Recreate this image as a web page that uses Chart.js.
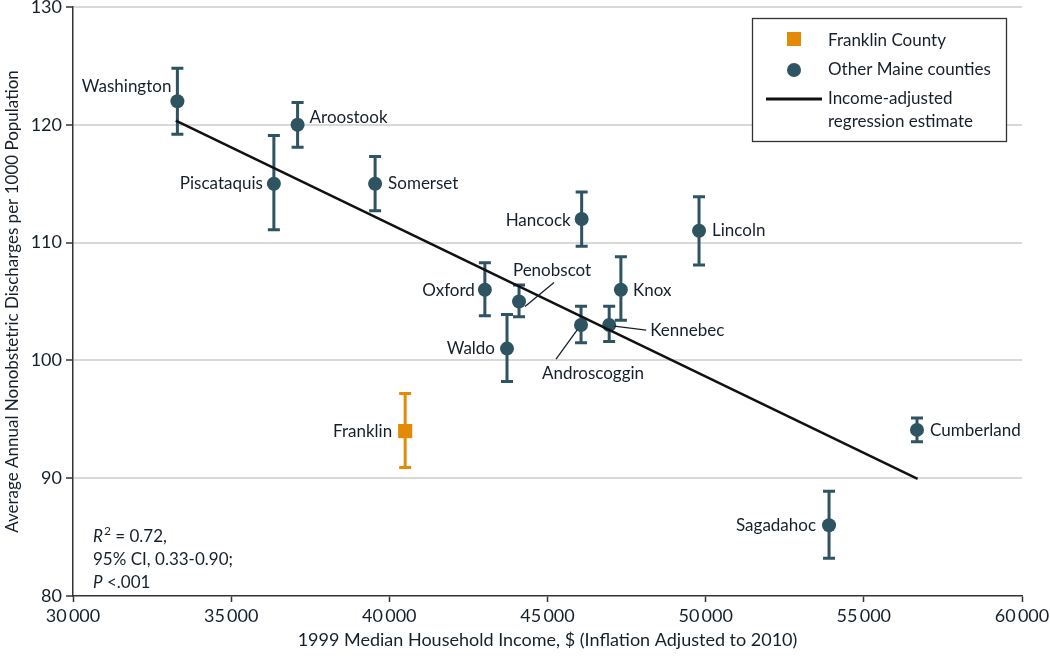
<!DOCTYPE html>
<html>
<head>
<meta charset="utf-8">
<script src="https://cdn.jsdelivr.net/npm/chart.js@4.4.1/dist/chart.umd.min.js"></script>
<style>
  html, body { margin: 0; padding: 0; background: #fff; }
  #wrap { width: 1050px; height: 657px; position: relative; }
</style>
</head>
<body>
<div id="wrap"><canvas id="maineChart"></canvas></div>
<script>
// Data
const counties = ["Washington", "Aroostook", "Piscataquis", "Somerset", "Hancock", "Lincoln", "Oxford",
  "Penobscot", "Waldo", "Androscoggin", "Kennebec", "Knox", "Cumberland", "Sagadahoc"];
const countyIncome = [33300, 37100, 36350, 39550, 46080, 49790, 43020, 44100, 43720, 46060, 46950, 47320, 56680, 53900];
const countyRate = [122, 120, 115, 115, 112, 111, 106, 105, 101, 103, 103, 106, 94.1, 86];
const countyLow = [119.2, 118.1, 111.1, 112.7, 109.7, 108.1, 103.8, 103.7, 98.2, 101.5, 101.6, 103.4, 93.1, 83.2];
const countyHigh = [124.8, 121.9, 119.1, 117.3, 114.3, 113.9, 108.3, 106.4, 103.9, 104.6, 104.6, 108.8, 95.1, 88.9];

const franklinIncome = [40500];
const franklinRate = [94];
const franklinLow = [90.9];
const franklinHigh = [97.2];

const regressionIncome = [33250, 56700];
const regressionRate = [120.35, 89.95];

const xTicks = [30000, 35000, 40000, 45000, 50000, 55000, 60000];
const yTicks = [80, 90, 100, 110, 120, 130];

const TEAL = "#2e5361";
const ORANGE = "#e38b06";
const INK = "#16202b";
const FONT = "Lato, 'Open Sans', sans-serif";

// label placement in pixels relative to the point (style only)
const labelPos = {
  Washington: { align: "right", dx: -6, dy: -15 },
  Aroostook: { align: "left", dx: 12, dy: -7 },
  Piscataquis: { align: "right", dx: -11, dy: 0 },
  Somerset: { align: "left", dx: 13, dy: 0 },
  Hancock: { align: "right", dx: -11, dy: 1 },
  Lincoln: { align: "left", dx: 13, dy: 0 },
  Oxford: { align: "right", dx: -10, dy: 1 },
  Penobscot: { align: "center", dx: 33, dy: -31, lead: [6, 5, 35, -19] },
  Waldo: { align: "right", dx: -12, dy: 0 },
  Androscoggin: { align: "center", dx: 12, dy: 48, lead: [-4, 5, -25, 34] },
  Kennebec: { align: "left", dx: 41, dy: 5, lead: [5, 1, 37, 5] },
  Knox: { align: "left", dx: 12, dy: 1 },
  Cumberland: { align: "left", dx: 13, dy: 1 },
  Sagadahoc: { align: "right", dx: -13, dy: 0 },
  Franklin: { align: "right", dx: -13, dy: 0 },
};

function fmtThousands(v) {
  return String(v).replace(/(\d+)(\d{3})$/, "$1\u2009$2");
}

const errorBars = {
  id: "errorBars",
  beforeDatasetsDraw(chart) {
    const { ctx, scales: { x, y } } = chart;
    const draw = (xs, lows, highs, color) => {
      ctx.save();
      ctx.strokeStyle = color;
      ctx.lineWidth = 3;
      xs.forEach((v, i) => {
        const px = x.getPixelForValue(v);
        const top = y.getPixelForValue(highs[i]);
        const bot = y.getPixelForValue(lows[i]);
        ctx.beginPath();
        ctx.moveTo(px, top); ctx.lineTo(px, bot);
        ctx.moveTo(px - 6, top); ctx.lineTo(px + 6, top);
        ctx.moveTo(px - 6, bot); ctx.lineTo(px + 6, bot);
        ctx.stroke();
      });
      ctx.restore();
    };
    draw(countyIncome, countyLow, countyHigh, TEAL);
    draw(franklinIncome, franklinLow, franklinHigh, ORANGE);
  },
};

const pointLabels = {
  id: "pointLabels",
  afterDatasetsDraw(chart) {
    const { ctx, scales: { x, y } } = chart;
    ctx.save();
    ctx.font = "17px " + FONT;
    ctx.fillStyle = INK;
    ctx.strokeStyle = INK;
    ctx.lineWidth = 1.3;
    ctx.textBaseline = "middle";
    const put = (name, xv, yv) => {
      const p = labelPos[name];
      const px = x.getPixelForValue(xv);
      const py = y.getPixelForValue(yv);
      ctx.textAlign = p.align;
      ctx.fillText(name, px + p.dx, py + p.dy);
      if (p.lead) {
        ctx.beginPath();
        ctx.moveTo(px + p.lead[0], py + p.lead[1]);
        ctx.lineTo(px + p.lead[2], py + p.lead[3]);
        ctx.stroke();
      }
    };
    counties.forEach((c, i) => put(c, countyIncome[i], countyRate[i]));
    put("Franklin", franklinIncome[0], franklinRate[0]);
    ctx.restore();
  },
};

const legendBox = {
  id: "legendBox",
  afterDraw(chart) {
    const { ctx } = chart;
    ctx.save();
    ctx.fillStyle = "#fff";
    ctx.fillRect(752, 18, 254, 123);
    ctx.strokeStyle = "#333";
    ctx.lineWidth = 1.3;
    ctx.strokeRect(752.5, 18.5, 254, 123);

    ctx.fillStyle = ORANGE;
    ctx.fillRect(787, 32, 14, 14);
    ctx.fillStyle = TEAL;
    ctx.beginPath();
    ctx.arc(794, 70, 7, 0, Math.PI * 2);
    ctx.fill();
    ctx.strokeStyle = "#111";
    ctx.lineWidth = 3;
    ctx.beginPath();
    ctx.moveTo(766, 99); ctx.lineTo(822, 99);
    ctx.stroke();

    ctx.fillStyle = INK;
    ctx.font = "17px " + FONT;
    ctx.textAlign = "left";
    ctx.textBaseline = "middle";
    ctx.fillText("Franklin County", 828, 41);
    ctx.fillText("Other Maine counties", 828, 70);
    ctx.fillText("Income-adjusted", 828, 99);
    ctx.fillText("regression estimate", 828, 122);

    // statistics note
    let tx = 93;
    ctx.font = "italic 17px " + FONT;
    ctx.fillText("R", tx, 537);
    tx += ctx.measureText("R").width + 1;
    ctx.font = "12px " + FONT;
    ctx.fillText("2", tx, 531);
    tx += ctx.measureText("2").width;
    ctx.font = "17px " + FONT;
    ctx.fillText(" = 0.72,", tx, 537);
    ctx.fillText("95% CI, 0.33-0.90;", 93, 560);
    ctx.font = "italic 17px " + FONT;
    ctx.fillText("P", 93, 583);
    const pw = ctx.measureText("P").width;
    ctx.font = "17px " + FONT;
    ctx.fillText(" <.001", 93 + pw, 583);
    ctx.restore();
  },
};

const ctx = document.getElementById("maineChart").getContext("2d");

new Chart(ctx, {
  type: "scatter",
  data: {
    datasets: [
      {
        label: "Income-adjusted regression estimate",
        type: "line",
        data: regressionIncome.map((v, i) => ({ x: v, y: regressionRate[i] })),
        borderColor: "#111",
        borderWidth: 2.5,
        pointRadius: 0,
        fill: false,
        order: 0,
      },
      {
        label: "Franklin County",
        data: franklinIncome.map((v, i) => ({ x: v, y: franklinRate[i] })),
        pointStyle: "rect",
        pointRadius: 10,
        backgroundColor: ORANGE,
        borderColor: ORANGE,
        borderWidth: 0,
        order: 1,
      },
      {
        label: "Other Maine counties",
        data: countyIncome.map((v, i) => ({ x: v, y: countyRate[i] })),
        pointStyle: "circle",
        pointRadius: 7,
        backgroundColor: TEAL,
        borderColor: TEAL,
        borderWidth: 0,
        order: 2,
      },
    ],
  },
  options: {
    responsive: true,
    maintainAspectRatio: false,
    animation: false,
    events: [],
    layout: { autoPadding: false, padding: { top: 7, right: 28, left: 0, bottom: 0 } },
    plugins: {
      legend: { display: false },
      tooltip: { enabled: false },
    },
    scales: {
      x: {
        type: "linear",
        min: xTicks[0],
        max: xTicks[xTicks.length - 1],
        afterBuildTicks: (scale) => { scale.ticks = xTicks.map((v) => ({ value: v })); },
        afterFit: (scale) => { scale.height = 61; scale.paddingLeft = 0; scale.paddingRight = 0; },
        ticks: {
          color: INK,
          font: { family: FONT, size: 18 },
          padding: 3,
          maxRotation: 0,
          callback: (v) => fmtThousands(v),
        },
        grid: { drawOnChartArea: false, tickLength: 6, tickColor: "#333", tickWidth: 1.5 },
        border: { color: "#333", width: 1.5 },
        title: {
          display: true,
          text: "1999 Median Household Income, $ (Inflation Adjusted to 2010)",
          color: INK,
          font: { family: FONT, size: 18 },
          padding: { top: 4, bottom: 6 },
        },
      },
      y: {
        type: "linear",
        min: yTicks[0],
        max: yTicks[yTicks.length - 1],
        afterBuildTicks: (scale) => { scale.ticks = yTicks.map((v) => ({ value: v })); },
        afterFit: (scale) => { scale.width = 73; scale.paddingTop = 0; scale.paddingBottom = 0; },
        ticks: {
          color: INK,
          font: { family: FONT, size: 18 },
          padding: 4,
        },
        grid: {
          color: (c) => (c.tick && c.tick.value === yTicks[0] ? "rgba(0,0,0,0)" : "#d9d9d9"),
          lineWidth: 2,
          tickLength: 7,
          tickColor: "#333",
          tickWidth: 1.5,
        },
        border: { color: "#333", width: 1.5 },
        title: {
          display: true,
          text: "Average Annual Nonobstetric Discharges per 1000 Population",
          color: INK,
          font: { family: FONT, size: 17 },
          padding: { top: 2, bottom: 2 },
        },
      },
    },
  },
  plugins: [errorBars, pointLabels, legendBox],
});
</script>
</body>
</html>
